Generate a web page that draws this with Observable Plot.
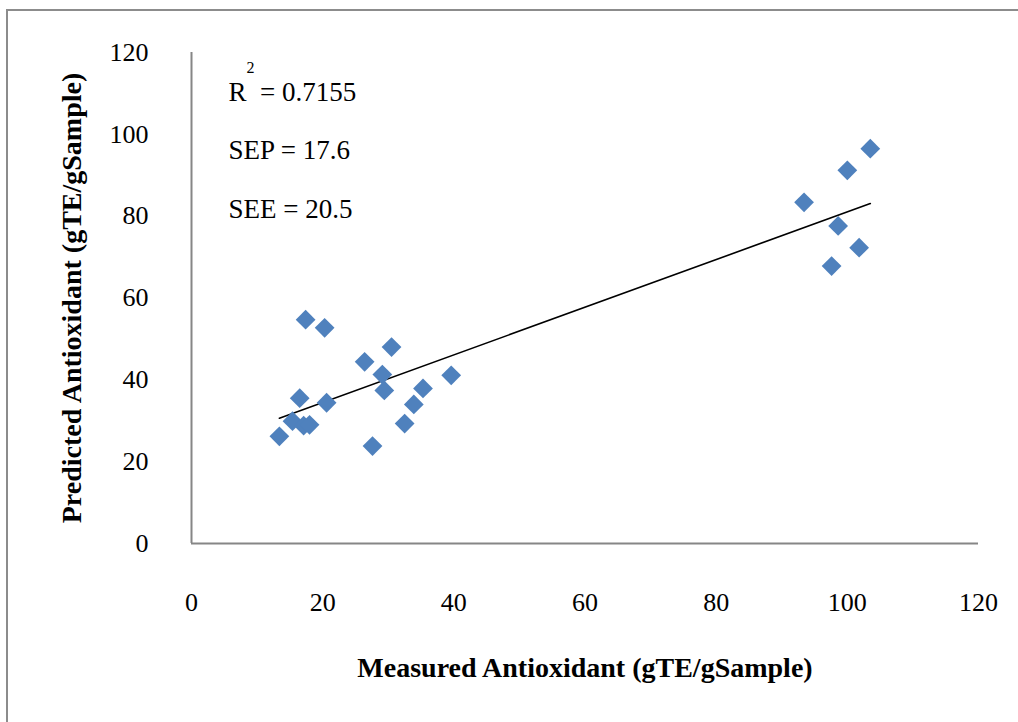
<!DOCTYPE html>
<html>
<head>
<meta charset="utf-8">
<script src="https://cdn.jsdelivr.net/npm/d3@7"></script>
<script src="https://cdn.jsdelivr.net/npm/@observablehq/plot@0.6"></script>
<style>
  html, body { margin: 0; padding: 0; background: #fff; overflow: hidden; }
  #frame { position: absolute; left: 6px; top: 9px; width: 1100px; height: 800px;
           border-left: 2px solid #8c8c8c; border-top: 2px solid #8c8c8c; }
  #chart { position: absolute; left: 0; top: 0; }
</style>
</head>
<body>
<div id="frame"></div>
<div id="chart"></div>
<script>
// Measured (x) vs predicted (y) antioxidant values
const measured  = [13.4, 15.4, 16.5, 17.1, 17.4, 18.0, 20.3, 20.6, 26.4, 27.6, 29.1, 29.4, 30.5, 32.5, 33.9, 35.3, 39.6, 93.4, 97.6, 98.6, 100.0, 101.8, 103.5];
const predicted = [26.2, 29.9, 35.5, 28.8, 54.7, 29.0, 52.7, 34.4, 44.4, 23.8, 41.3, 37.4, 48.0, 29.3, 34.0, 37.9, 41.1, 83.4, 67.8, 77.6, 91.2, 72.3, 96.5];
const xTicks = [0, 20, 40, 60, 80, 100, 120];
const yTicks = [0, 20, 40, 60, 80, 100, 120];
const xTitle = "Measured Antioxidant (gTE/gSample)";
const yTitle = "Predicted Antioxidant (gTE/gSample)";
const statLabels = ["R  = 0.7155", "SEP = 17.6", "SEE = 20.5"];
const superscript = ["2"];

const data = measured.map((m, i) => ({measured: m, predicted: predicted[i]}));

const font = "'Liberation Serif', 'Times New Roman', serif";

const chart = Plot.plot({
  width: 1018,
  height: 722,
  marginLeft: 191,
  marginRight: 40,
  marginTop: 52,
  marginBottom: 179,
  style: {fontFamily: font, background: "transparent", color: "#000"},
  x: {domain: [0, 120]},
  y: {domain: [0, 120]},
  marks: [
    Plot.axisX({ticks: xTicks, tickSize: 0, tickPadding: 49, fontSize: 26, label: null, tickFormat: d => String(d)}),
    Plot.axisY({ticks: yTicks, tickSize: 0, tickPadding: 43, fontSize: 26, label: null, tickFormat: d => String(d)}),
    Plot.ruleX([0], {y1: 0, y2: 120, stroke: "#868686", strokeWidth: 2}),
    Plot.ruleY([0], {x1: 0, x2: 120, stroke: "#868686", strokeWidth: 2}),
    Plot.linearRegressionY(data, {x: "measured", y: "predicted", ci: 0, stroke: "#000", strokeWidth: 1.6}),
    Plot.dot(data, {x: "measured", y: "predicted", symbol: "diamond2", r: 8.9, fill: "#4F81BD", stroke: "none"}),
    Plot.text([xTitle], {frameAnchor: "bottom", dy: 125, text: d => d, fontSize: 28, fontWeight: "bold", textAnchor: "middle", lineAnchor: "middle"}),
    Plot.text([yTitle], {frameAnchor: "left", dx: -119, text: d => d, fontSize: 28, fontWeight: "bold", rotate: -90, textAnchor: "middle", lineAnchor: "middle"}),
    ...statLabels.map((s, i) => Plot.text([s], {frameAnchor: "top-left", dx: 37, dy: 48.7 + i * 58.2, text: d => d, fontSize: 27, textAnchor: "start", lineAnchor: "bottom"})),
    Plot.text(superscript, {frameAnchor: "top-left", dx: 59, dy: 15, text: d => d, fontSize: 16, textAnchor: "middle", lineAnchor: "middle"})
  ]
});
document.getElementById("chart").appendChild(chart);
</script>
</body>
</html>
